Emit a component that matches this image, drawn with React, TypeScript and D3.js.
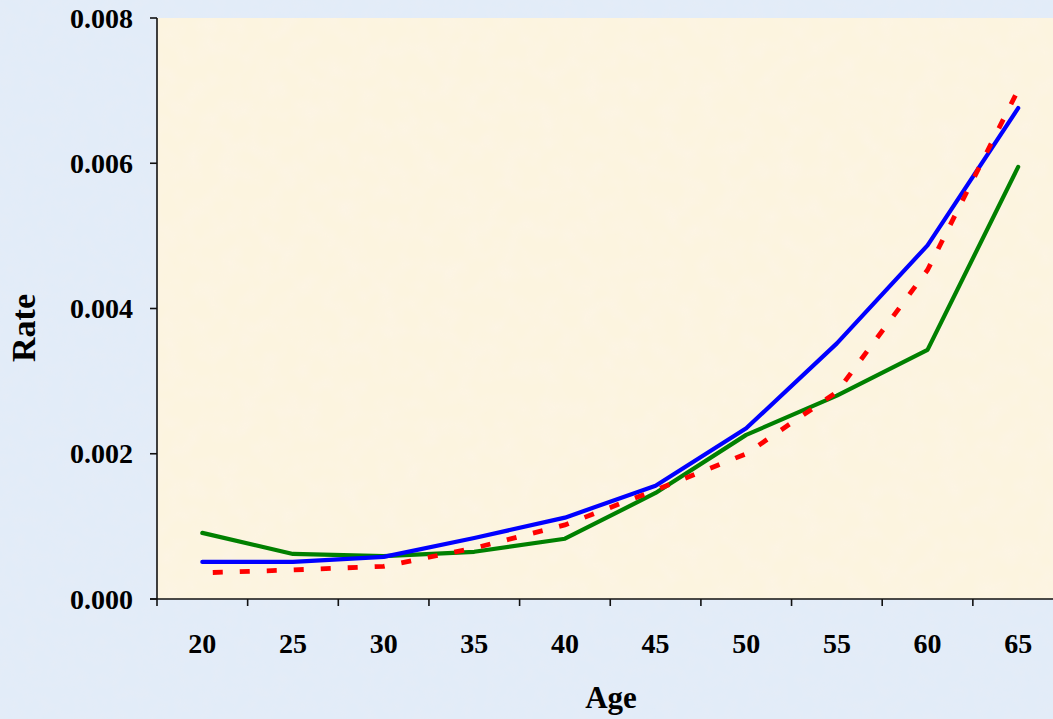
import React from "react";
import * as d3 from "d3";

// Age groups on the category axis
const ages: string[] = ["20", "25", "30", "35", "40", "45", "50", "55", "60", "65"];

// Rates by age group
const seriesBlue: number[] = [0.00051, 0.00051, 0.00058, 0.00084, 0.00112, 0.00156, 0.00235, 0.00352, 0.00487, 0.00676];
const seriesGreen: number[] = [0.00091, 0.00062, 0.00059, 0.00065, 0.00083, 0.00146, 0.00226, 0.0028, 0.00343, 0.00595];
const seriesRed: number[] = [0.00036, 0.0004, 0.00045, 0.0007, 0.00102, 0.0015, 0.002, 0.00285, 0.00453, 0.00701];

const yTicks: number[] = [0, 0.002, 0.004, 0.006, 0.008];

const W = 1053;
const H = 719;
const left = 157;
const top = 18;
const bottom = 599;
const band = 90.65;
const dash = 10;
const gap = 17;

export default function App() {
  const x = d3
    .scaleBand<string>()
    .domain(ages)
    .range([left, left + band * ages.length])
    .padding(0);
  const y = d3.scaleLinear().domain([0, 0.008]).range([bottom, top]);

  const cx = (a: string) => (x(a) as number) + x.bandwidth() / 2;
  const line = d3
    .line<number>()
    .x((_, i) => cx(ages[i]))
    .y((v) => y(v));

  // shift the dash pattern so the dashed series finishes on a dash
  const redPts = seriesRed.map((v, i) => [cx(ages[i]), y(v)] as [number, number]);
  let redLen = 0;
  for (let i = 1; i < redPts.length; i++) {
    redLen += Math.hypot(redPts[i][0] - redPts[i - 1][0], redPts[i][1] - redPts[i - 1][1]);
  }
  const period = dash + gap;
  const redOffset = (((dash - (redLen % period)) % period) + period) % period;

  const font = "'Liberation Serif', 'Times New Roman', serif";
  const xTickPos = ages.map((a) => x(a) as number).concat([left + band * ages.length]);

  return (
    <svg
      width={W}
      height={H}
      style={{ position: "absolute", left: 0, top: 0, display: "block" }}
      fontFamily={font}
    >
      <defs>
        {/* soft mottled paper texture */}
        <filter id="mottleBlue" x="0" y="0" width="100%" height="100%">
          <feTurbulence type="fractalNoise" baseFrequency="0.08" numOctaves="3" seed="3" result="n" />
          <feColorMatrix
            in="n"
            type="matrix"
            values="0 0 0 0 0.78  0 0 0 0 0.84  0 0 0 0 0.93  1.6 0 0 0 -0.55"
            result="c"
          />
          <feComposite in="c" in2="SourceGraphic" operator="in" />
        </filter>
        <filter id="mottleCream" x="0" y="0" width="100%" height="100%">
          <feTurbulence type="fractalNoise" baseFrequency="0.05" numOctaves="2" seed="7" result="n" />
          <feColorMatrix
            in="n"
            type="matrix"
            values="0 0 0 0 0.98  0 0 0 0 0.91  0 0 0 0 0.80  1.2 0 0 0 -0.45"
            result="c"
          />
          <feComposite in="c" in2="SourceGraphic" operator="in" />
        </filter>
      </defs>

      {/* page background */}
      <rect x={0} y={0} width={W} height={H} fill="#E2ECF8" />
      <rect x={0} y={0} width={W} height={H} fill="#E2ECF8" filter="url(#mottleBlue)" />

      {/* plot area */}
      <rect x={left} y={top} width={W - left} height={bottom - top} fill="#FCF4DF" />
      <rect x={left} y={top} width={W - left} height={bottom - top} fill="#FCF4DF" filter="url(#mottleCream)" />

      {/* series */}
      <path d={line(seriesGreen) || ""} fill="none" stroke="#008000" strokeWidth={4.2} strokeLinejoin="round" strokeLinecap="round" />
      <path d={line(seriesBlue) || ""} fill="none" stroke="#0000FF" strokeWidth={4.2} strokeLinejoin="round" strokeLinecap="round" />
      <path
        d={line(seriesRed) || ""}
        fill="none"
        stroke="#FF0000"
        strokeWidth={4.8}
        strokeDasharray={`${dash} ${gap}`}
        strokeDashoffset={-redOffset}
        strokeLinecap="butt"
      />

      {/* y axis */}
      <line x1={left} x2={left} y1={top} y2={bottom} stroke="#111" strokeWidth={1.6} />
      {yTicks.map((t) => (
        <g key={t}>
          <line x1={left - 7} x2={left} y1={y(t)} y2={y(t)} stroke="#111" strokeWidth={1.6} />
          <text
            x={133}
            y={y(t)}
            textAnchor="end"
            dominantBaseline="central"
            fontSize={28}
            fontWeight="bold"
            fill="#000"
          >
            {t.toFixed(3)}
          </text>
        </g>
      ))}

      {/* x axis */}
      <line x1={left - 7} x2={W} y1={bottom} y2={bottom} stroke="#111" strokeWidth={1.6} />
      {xTickPos.map((p, i) => (
        <line key={i} x1={p} x2={p} y1={bottom} y2={bottom + 7} stroke="#111" strokeWidth={1.6} />
      ))}
      {ages.map((a) => (
        <text
          key={a}
          x={cx(a)}
          y={653}
          textAnchor="middle"
          fontSize={28}
          fontWeight="bold"
          fill="#000"
        >
          {a}
        </text>
      ))}

      {/* axis titles */}
      <text x={611} y={708} textAnchor="middle" fontSize={31} fontWeight="bold" fill="#000">
        Age
      </text>
      <text
        transform={`translate(35, 328) rotate(-90)`}
        textAnchor="middle"
        fontSize={34}
        fontWeight="bold"
        fill="#000"
      >
        Rate
      </text>
    </svg>
  );
}
